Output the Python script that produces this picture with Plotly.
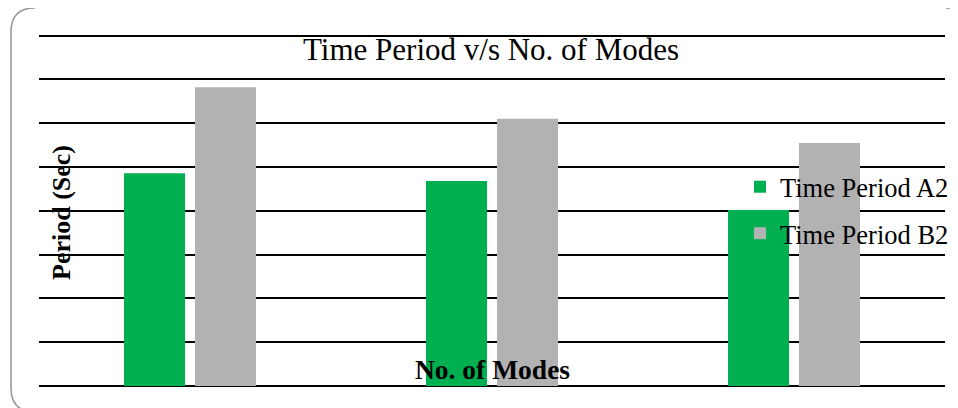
import plotly.graph_objects as go

categories = ["Mode 1", "Mode 2", "Mode 3"]
period_a2 = [4.86, 4.68, 4.02]
period_b2 = [6.82, 6.10, 5.55]
series_names = ["Time Period A2", "Time Period B2"]

# page is shown with an 8px body margin, so the figure is shifted by OFF
OFF = 8
W, H = 950, 400
ML, MR, MT, MB = 31, 13, 25, 22
PW, PH = W - ML - MR, H - MT - MB

def px(x):
    return (x - OFF - ML) / PW

def py(y):
    return (H - MB - (y - OFF)) / PH

SERIF = "Liberation Serif, Times New Roman, serif"

fig = go.Figure()
fig.add_trace(go.Bar(x=categories, y=period_a2, name=series_names[0],
                     marker=dict(color="#00B050", line=dict(width=0)),
                     legendgroup="a"))
fig.add_trace(go.Bar(x=categories, y=period_b2, name=series_names[1],
                     marker=dict(color="#B2B2B2", line=dict(width=0)),
                     legendgroup="b"))

border = (f"M {px(35)},{py(8)} Q {px(11)},{py(8)} {px(11)},{py(32)} "
          f"L {px(11)},{py(388)} Q {px(11)},{py(412)} {px(35)},{py(412)}")
corner = f"M {px(946)},{py(8)} Q {px(956)},{py(8)} {px(962)},{py(11)}"

fig.update_layout(
    width=W, height=H,
    margin=dict(l=ML, r=MR, t=MT, b=MB, autoexpand=False),
    paper_bgcolor="white", plot_bgcolor="white",
    barmode="group", bargap=0.53, bargroupgap=0.14,
    showlegend=True,
    legend=dict(x=px(740), y=py(163), xanchor="left", yanchor="top",
                bgcolor="rgba(0,0,0,0)", borderwidth=0,
                font=dict(family=SERIF, size=26.5, color="#000"),
                traceorder="grouped", tracegroupgap=9),
    xaxis=dict(showticklabels=False, showgrid=False, showline=False,
               ticks="", zeroline=False),
    yaxis=dict(range=[0, 8.06], tickvals=[1, 2, 3, 4, 5, 6, 7, 8],
               showticklabels=False, ticks="",
               showgrid=True, gridcolor="#000", gridwidth=1.6,
               zeroline=True, zerolinecolor="#000", zerolinewidth=1.6,
               showline=False),
    shapes=[
        dict(type="path", xref="paper", yref="paper", path=border,
             line=dict(color="#9A9A9A", width=1.6), layer="above"),
        dict(type="path", xref="paper", yref="paper", path=corner,
             line=dict(color="#9A9A9A", width=1.6), layer="above"),
    ],
    annotations=[
        dict(text="Time Period v/s No. of Modes", xref="paper", yref="paper",
             x=px(491), y=py(50), xanchor="center", yanchor="middle",
             showarrow=False, font=dict(family=SERIF, size=31, color="#000")),
        dict(text="<b>Period (Sec)</b>", xref="paper", yref="paper",
             x=px(61), y=py(213), xanchor="center", yanchor="middle",
             textangle=-90, showarrow=False,
             font=dict(family=SERIF, size=26, color="#000")),
        dict(text="<b>No. of Modes</b>", xref="paper", yref="paper",
             x=px(492), y=py(369), xanchor="center", yanchor="middle",
             showarrow=False, font=dict(family=SERIF, size=27.5, color="#000")),
    ],
)

fig.write_html("out.html")
